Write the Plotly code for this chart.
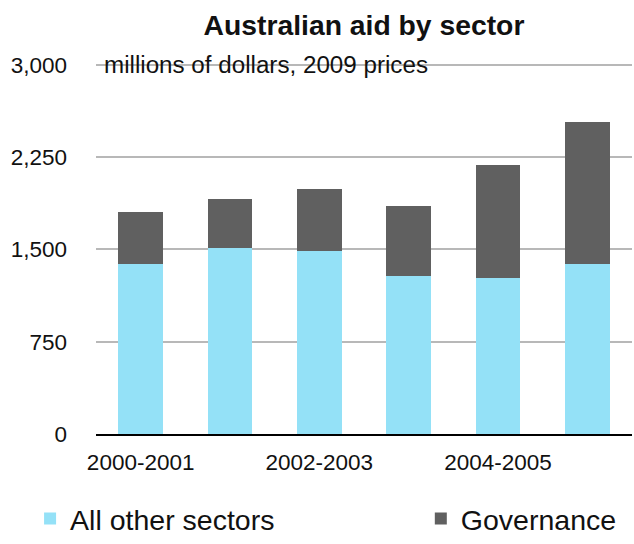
import plotly.graph_objects as go

years = ["2000-2001", "2001-2002", "2002-2003", "2003-2004", "2004-2005", "2005-2006"]
tick_years = ["2000-2001", "2002-2003", "2004-2005"]
other_sectors = [1382, 1508, 1490, 1283, 1264, 1385]
governance = [422, 398, 502, 571, 925, 1149]
y_ticks = [0, 750, 1500, 2250, 3000]
y_tick_text = ["0", "750", "1,500", "2,250", "3,000"]

FONT = "Liberation Sans, Arial, Helvetica, sans-serif"

fig = go.Figure()
fig.add_trace(go.Bar(x=years, y=other_sectors, name="All other sectors", showlegend=True,
                     marker=dict(color="#94E1F7", line=dict(width=0)), legend="legend"))
fig.add_trace(go.Bar(x=years, y=governance, name="Governance", showlegend=True,
                     marker=dict(color="#606060", line=dict(width=0)), legend="legend2"))

legend_common = dict(orientation="h", xanchor="left", y=-0.296, yanchor="bottom",
                     font=dict(size=28.5, family=FONT, color="#111111"),
                     bgcolor="rgba(0,0,0,0)")

fig.update_layout(
    width=634, height=544,
    showlegend=True,
    barmode="stack", bargap=0.5,
    paper_bgcolor="white", plot_bgcolor="white",
    margin=dict(l=96, r=2, t=61, b=110, autoexpand=False),
    font=dict(family=FONT, color="#111111"),
    title=dict(text="<b>Australian aid by sector</b>", x=0.5, xref="paper",
               xanchor="center", y=1 - 25 / 544, yanchor="middle",
               font=dict(size=28.3, family=FONT, color="#111111")),
    xaxis=dict(tickmode="array", tickvals=tick_years, ticktext=tick_years,
               showgrid=False, showline=True, linecolor="black", linewidth=2,
               ticks="", tickfont=dict(size=22.5), ticklabelstandoff=7),
    yaxis=dict(range=[0, 3030], tickmode="array", tickvals=y_ticks, ticktext=y_tick_text,
               showgrid=True, gridcolor="#b8b8b8", gridwidth=1.5, zeroline=False,
               showline=False, ticks="", tickfont=dict(size=22.5), ticklabelstandoff=28),
    legend=dict(x=-0.123, **legend_common),
    legend2=dict(x=0.606, **legend_common),
    annotations=[dict(text="millions of dollars, 2009 prices", xref="paper", yref="y",
                      x=0.012, y=3000, xanchor="left", yanchor="middle", showarrow=False,
                      font=dict(size=24.2, family=FONT, color="#111111"))],
)

fig.write_html("out.html", config={"displayModeBar": False},
               post_script="document.body.style.margin='0';document.body.style.overflow='hidden';")
